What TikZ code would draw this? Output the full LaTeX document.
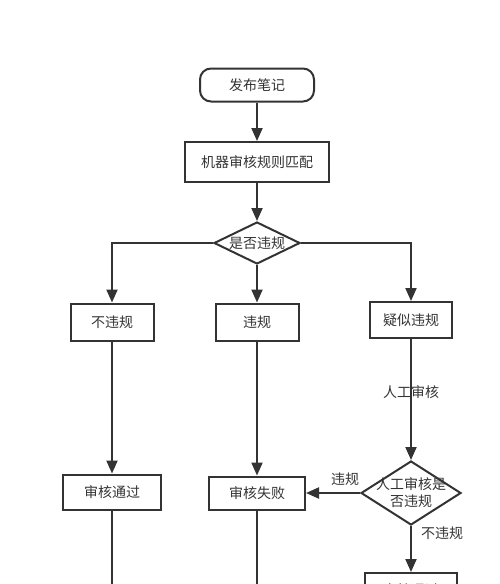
\documentclass[tikz,border=0pt]{standalone}
\usepackage{fontspec}
\newfontfamily\cjk{Noto Sans CJK SC}
\usetikzlibrary{shapes.geometric,arrows.meta}
\definecolor{inkgray}{HTML}{333333}

\tikzset{
  flow/.style={draw=inkgray, line width=2pt, -{Triangle[length=13pt,width=11pt]}},
  plainline/.style={draw=inkgray, line width=2pt},
  txt/.style={text=inkgray, font=\cjk\fontsize{14}{17}\selectfont, inner sep=0pt},
  box/.style={txt, draw=inkgray, line width=2pt, rectangle, inner sep=0pt},
  startbox/.style={box, rounded corners=11pt},
  decision/.style={draw=inkgray, line width=2pt, diamond, inner sep=0pt}
}

\begin{document}
\begin{tikzpicture}[x=1pt,y=-1pt]
  \useasboundingbox (0,0) rectangle (500,584);
  \clip (0,0) rectangle (500,584);

  % nodes
  \node[startbox, minimum width=114pt, minimum height=33pt] (post) at (257,85) {发布笔记};
  \node[box, minimum width=144pt, minimum height=40pt] (machine) at (257,162) {机器审核规则匹配};
  \node[decision, minimum width=86pt, minimum height=42pt] (check) at (257,243) {};
  \node[txt] (checktext) at (check) {是否违规};
  \node[box, minimum width=83pt, minimum height=37pt] (ok) at (112,322) {不违规};
  \node[box, minimum width=83pt, minimum height=37pt] (bad) at (257,322) {违规};
  \node[box, minimum width=82pt, minimum height=36pt] (doubt) at (411,320) {疑似违规};
  \node[decision, minimum width=100pt, minimum height=64pt] (hcheck) at (411,493) {};
  \node[txt, align=center] (hchecktext) at (hcheck) {人工审核是\\否违规};
  \node[box, minimum width=98pt, minimum height=35pt] (pass) at (112,492) {审核通过};
  \node[box, minimum width=96pt, minimum height=33pt] (fail) at (257,493) {审核失败};
  \node[box, minimum width=92pt, minimum height=34pt] (pass2) at (411,590) {审核通过};
  \coordinate (cutoff) at (0,600);

  % connectors
  \draw[flow] (post) -- (machine);
  \draw[flow] (machine) -- (check);
  \draw[flow] (check) -- (bad);
  \draw[flow] (check.west) -| (ok);
  \draw[flow] (check.east) -| (doubt);
  \draw[flow] (ok) -- (pass);
  \draw[flow] (bad) -- (fail);
  \draw[flow] (doubt) -- (hcheck);
  \draw[flow] (hcheck.west) -- (fail);
  \draw[flow] (hcheck) -- (pass2);
  \draw[plainline] (pass) -- (pass |- cutoff);
  \draw[plainline] (fail) -- (fail |- cutoff);

  % labels
  \node[txt] (manual) at (411,392) {人工审核};
  \node[txt] (badlabel) at (345,479) {违规};
  \node[txt] (oklabel) at (442,533) {不违规};
\end{tikzpicture}
\end{document}
